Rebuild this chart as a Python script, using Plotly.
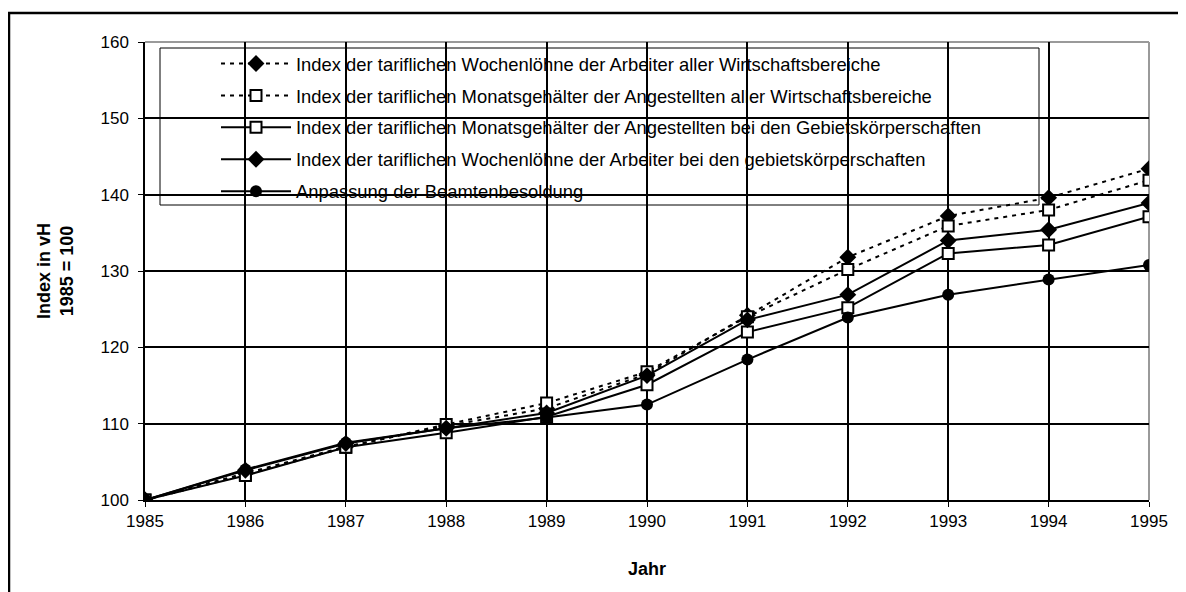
import plotly.graph_objects as go

years = [1985, 1986, 1987, 1988, 1989, 1990, 1991, 1992, 1993, 1994, 1995]

names = [
    "Index der tariflichen Wochenlöhne der Arbeiter aller Wirtschaftsbereiche",
    "Index der tariflichen Monatsgehälter der Angestellten aller Wirtschaftsbereiche",
    "Index der tariflichen Monatsgehälter der Angestellten bei den Gebietskörperschaften",
    "Index der tariflichen Wochenlöhne der Arbeiter bei den gebietskörperschaften",
    "Anpassung der Beamtenbesoldung",
]

arbeiter_alle = [100, 103.5, 107.0, 109.7, 112.0, 116.5, 124.2, 131.8, 137.2, 139.6, 143.4]
angestellte_alle = [100, 103.3, 106.9, 109.9, 112.7, 116.8, 124.0, 130.2, 135.9, 138.0, 141.9]
angestellte_gk = [100, 103.2, 106.9, 108.8, 110.9, 115.1, 122.0, 125.2, 132.3, 133.4, 137.1]
arbeiter_gk = [100, 103.9, 107.4, 109.4, 111.4, 116.3, 123.6, 126.9, 134.0, 135.4, 138.9]
beamte = [100, 104.0, 107.5, 109.4, 110.8, 112.5, 118.4, 123.9, 126.9, 128.9, 130.8]

y_ticks = [100, 110, 120, 130, 140, 150, 160]

FONT = "Arial, Liberation Sans, sans-serif"
BLACK = "#000000"

series = [
    (arbeiter_alle, "4px,5px", dict(symbol="diamond", size=13, color=BLACK)),
    (angestellte_alle, "4px,5px", dict(symbol="square", size=11, color="white", line=dict(color=BLACK, width=2))),
    (angestellte_gk, "solid", dict(symbol="square", size=11, color="white", line=dict(color=BLACK, width=2))),
    (arbeiter_gk, "solid", dict(symbol="diamond", size=13, color=BLACK)),
    (beamte, "solid", dict(symbol="circle", size=12, color=BLACK)),
]

fig = go.Figure()
for i, ((vals, dash, marker), name) in enumerate(zip(series, names)):
    fig.add_trace(go.Scatter(
        x=years, y=vals, name=name, mode="lines+markers",
        line=dict(color=BLACK, width=2, dash=dash),
        marker=marker, legendgroup=f"g{i}",
    ))

# page offset (body margin) compensation
OFF = 8
PAGE_W, PAGE_H = 1186, 592
W, H = PAGE_W - OFF, PAGE_H - OFF
# plot area in page pixels
PL, PR, PT, PB = 145, 1149, 42, 500
L, R, T, B = PL - OFF, W - (PR - OFF), PT - OFF, H - (PB - OFF)
pw, ph = W - L - R, H - T - B


def px(xpage):
    return (xpage - OFF - L) / pw


def py(ypage):
    return (H - B - (ypage - OFF)) / ph


shapes = [
    # outer chart border
    dict(type="rect", xref="paper", yref="paper", x0=px(9), x1=px(1200), y0=py(610), y1=py(13),
         line=dict(color=BLACK, width=2.5), fillcolor="rgba(0,0,0,0)", layer="above"),
    # plot area grey border top and right
    dict(type="line", xref="paper", yref="paper", x0=0, x1=1, y0=1, y1=1,
         line=dict(color="#9a9a9a", width=2), layer="between"),
    dict(type="line", xref="paper", yref="paper", x0=1, x1=1, y0=0, y1=1,
         line=dict(color="#9a9a9a", width=2), layer="between"),
    # legend box
    dict(type="rect", xref="paper", yref="paper", x0=px(160), x1=px(1039), y0=py(205), y1=py(48),
         line=dict(color=BLACK, width=1), fillcolor="white", layer="between"),
]

fig.update_layout(
    width=W, height=H,
    margin=dict(l=L, r=R, t=T, b=B),
    paper_bgcolor="white", plot_bgcolor="white",
    font=dict(family=FONT, size=17, color=BLACK),
    shapes=shapes,
    showlegend=True,
    legend=dict(
        x=px(216), y=py(45), xanchor="left", yanchor="top",
        bgcolor="rgba(0,0,0,0)", borderwidth=0,
        font=dict(family=FONT, size=18.4, color=BLACK),
        traceorder="grouped", tracegroupgap=5, itemwidth=70,
    ),
    xaxis=dict(
        range=[1985, 1995], tickmode="array", tickvals=years, ticktext=[str(y) for y in years],
        showgrid=True, gridcolor=BLACK, gridwidth=1.5,
        showline=True, linecolor=BLACK, linewidth=1.5,
        ticks="outside", ticklen=5, tickcolor=BLACK, tickwidth=1,
        zeroline=False, tickfont=dict(size=17),
        title=dict(text="<b>Jahr</b>", font=dict(family=FONT, size=18), standoff=32),
    ),
    yaxis=dict(
        range=[100, 160], tickmode="array", tickvals=y_ticks,
        showgrid=True, gridcolor=BLACK, gridwidth=1.5,
        showline=True, linecolor=BLACK, linewidth=1.5,
        ticks="outside", ticklen=5, tickcolor=BLACK, tickwidth=1,
        zeroline=False, tickfont=dict(size=17), ticklabelstandoff=6,
        title=dict(text="<b>Index in vH<br>1985 = 100</b>", font=dict(family=FONT, size=18), standoff=22),
    ),
)

fig.write_html("out.html")
